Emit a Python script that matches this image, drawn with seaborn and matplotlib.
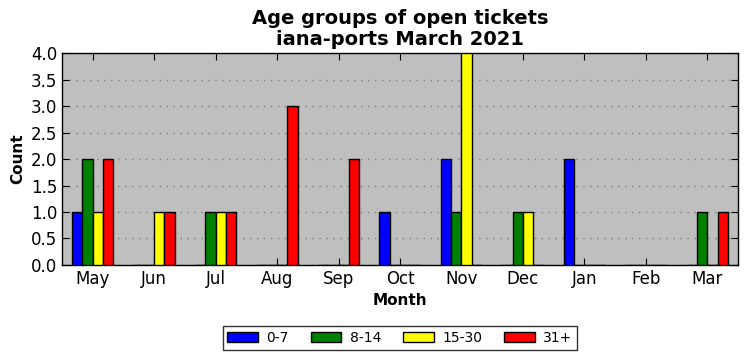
import pandas as pd
import matplotlib
matplotlib.use("Agg")
import matplotlib.pyplot as plt
import seaborn as sns

months = ["May", "Jun", "Jul", "Aug", "Sep", "Oct", "Nov", "Dec", "Jan", "Feb", "Mar"]
groups = ["0-7", "8-14", "15-30", "31+"]
g_0_7 = [1, 0, 0, 0, 0, 1, 2, 0, 2, 0, 0]
g_8_14 = [2, 0, 1, 0, 0, 0, 1, 1, 0, 0, 1]
g_15_30 = [1, 1, 1, 0, 0, 0, 4, 1, 0, 0, 0]
g_31 = [2, 1, 1, 3, 2, 0, 0, 0, 0, 0, 1]
colors = ["blue", "green", "yellow", "red"]

veri = pd.DataFrame({
    "Month": months * 4,
    "Group": [g for g in groups for _ in months],
    "Count": g_0_7 + g_8_14 + g_15_30 + g_31,
})

sns.set_style("ticks")
plt.rcParams["font.family"] = ["DejaVu Sans"]
plt.rcParams["text.color"] = "black"
plt.rcParams["axes.labelcolor"] = "black"
plt.rcParams["xtick.color"] = "black"
plt.rcParams["ytick.color"] = "black"

fig = plt.figure(figsize=(7.47, 3.61), dpi=100)
ax = fig.add_axes([0.083, 0.266, 0.905, 0.587])
ax.set_facecolor("#bfbfbf")

sns.barplot(data=veri, x="Month", y="Count", hue="Group", order=months,
            hue_order=groups, palette=colors, width=0.67, edgecolor="black",
            linewidth=1, saturation=1, ax=ax, zorder=3)

ax.set_ylim(0, 4)
ax.set_xlim(-0.5, 10.5)
ax.set_yticks([0, 0.5, 1, 1.5, 2, 2.5, 3, 3.5, 4])
ax.set_yticklabels(["0.0", "0.5", "1.0", "1.5", "2.0", "2.5", "3.0", "3.5", "4.0"])
ax.yaxis.grid(True, linestyle=(0, (1, 4)), color="#808080", linewidth=1, zorder=0)
ax.set_axisbelow(True)
ax.tick_params(direction="in", top=True, right=True, labelsize=12, length=5)
for s in ax.spines.values():
    s.set_color("black")
    s.set_linewidth(1)

ax.set_xlabel("Month", fontsize=11, fontweight="bold")
ax.set_ylabel("Count", fontsize=11, fontweight="bold")
ax.set_title("Age groups of open tickets\niana-ports March 2021", fontsize=14,
             fontweight="bold", linespacing=1.1, color="black")

leg = ax.legend(loc="upper center", bbox_to_anchor=(0.5, -0.255), ncol=4,
                fancybox=False, frameon=True, fontsize=10, handlelength=2.2,
                columnspacing=1.6, borderpad=0.35, handletextpad=0.6)
leg.get_frame().set_edgecolor("black")
leg.get_frame().set_linewidth(1)

fig.savefig("out.png", dpi=100)
